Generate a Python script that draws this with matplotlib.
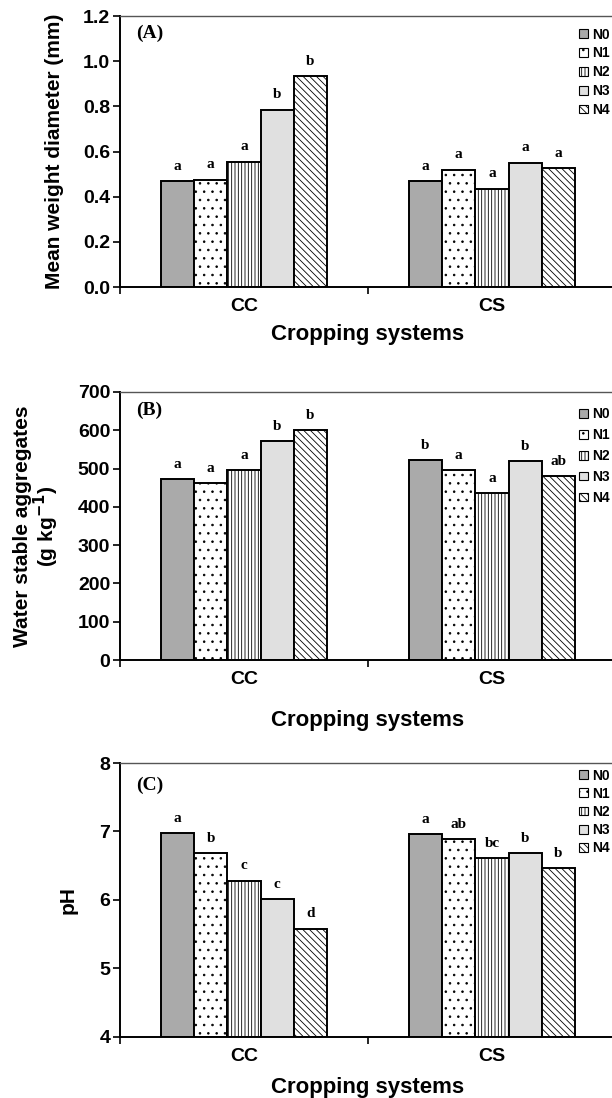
import matplotlib.pyplot as plt
from matplotlib.patches import Patch

plt.rcParams['font.family'] = ['Liberation Sans', 'DejaVu Sans']
plt.rcParams['hatch.linewidth'] = 0.6

systems = ['CC', 'CS']
treatments = ['N0', 'N1', 'N2', 'N3', 'N4']

mwd_cc = [0.47, 0.475, 0.555, 0.785, 0.935]
mwd_cs = [0.47, 0.52, 0.435, 0.55, 0.525]
mwd_let_cc = ['a', 'a', 'a', 'b', 'b']
mwd_let_cs = ['a', 'a', 'a', 'a', 'a']

wsa_cc = [472, 462, 496, 572, 600]
wsa_cs = [522, 496, 436, 520, 481]
wsa_let_cc = ['a', 'a', 'a', 'b', 'b']
wsa_let_cs = ['b', 'a', 'a', 'b', 'ab']

ph_cc = [6.98, 6.68, 6.28, 6.01, 5.58]
ph_cs = [6.96, 6.89, 6.61, 6.68, 6.46]
ph_let_cc = ['a', 'b', 'c', 'c', 'd']
ph_let_cs = ['a', 'ab', 'bc', 'b', 'b']

# fill colour and hatch for each treatment
faces = ['#aaaaaa', 'white', 'white', '#e0e0e0', 'white']
hatches = ['', '..', '|||||', '', '\\\\\\\\\\']

fig = plt.figure(figsize=(6.12, 10.98), dpi=100)

panels = [
    dict(vals=(mwd_cc, mwd_cs), lets=(mwd_let_cc, mwd_let_cs), ylim=(0, 1.2),
         yticks=[0.0, 0.2, 0.4, 0.6, 0.8, 1.0, 1.2], fmt='{:.1f}', tag='(A)',
         ylabel='Mean weight diameter (mm)', rect=[0.196, 0.7386, 0.8105, 0.2468],
         ylx=-0.131, xly=-0.177, tagy=0.935, legy=0.973, legsp=0.35),
    dict(vals=(wsa_cc, wsa_cs), lets=(wsa_let_cc, wsa_let_cs), ylim=(0, 700),
         yticks=list(range(0, 701, 100)), fmt='{:d}', tag='(B)',
         ylabel='Water stable aggregates\n(g kg$^{\\mathbf{-1}}$)', rect=[0.196, 0.3989, 0.8105, 0.2441],
         ylx=-0.167, xly=-0.224, tagy=0.93, legy=0.959, legsp=0.5),
    dict(vals=(ph_cc, ph_cs), lets=(ph_let_cc, ph_let_cs), ylim=(4, 8),
         yticks=[4, 5, 6, 7, 8], fmt='{:d}', tag='(C)',
         ylabel='pH', rect=[0.196, 0.0556, 0.8105, 0.2495],
         ylx=-0.105, xly=-0.183, tagy=0.92, legy=0.995, legsp=0.3),
]

bw = 0.134
for p in panels:
    ax = fig.add_axes(p['rect'])
    for g, (vals, lets) in enumerate(zip(p['vals'], p['lets'])):
        center = g + 0.5
        for i, (v, l) in enumerate(zip(vals, lets)):
            x = center + (i - 2) * bw
            ax.bar(x, v - p['ylim'][0], bottom=p['ylim'][0], width=bw,
                   color=faces[i], hatch=hatches[i], edgecolor='black', linewidth=1.4)
            ax.annotate(l, (x, v), xytext=(0, 6), textcoords='offset points',
                        ha='center', va='bottom', fontsize=11, fontweight='bold',
                        family='Liberation Serif')
    ax.set_xlim(0, 2)
    ax.set_ylim(*p['ylim'])
    ax.set_yticks(p['yticks'])
    ax.set_yticklabels([p['fmt'].format(t) for t in p['yticks']], fontsize=14, fontweight='bold')
    ax.set_xticks([0, 1, 2])
    ax.set_xticklabels([])
    ax.set_xticks([0.5, 1.5], minor=True)
    ax.set_xticklabels(systems, minor=True, fontsize=14, fontweight='bold')
    ax.tick_params(axis='x', which='minor', length=0, pad=8)
    ax.tick_params(axis='x', which='major', length=5, width=1.2, direction='out')
    ax.tick_params(axis='y', length=5, width=1.2, direction='out', pad=2)
    ax.spines['left'].set_linewidth(1.4)
    ax.spines['bottom'].set_linewidth(1.4)
    ax.spines['top'].set_linewidth(1.0)
    ax.spines['top'].set_color('#555555')
    ax.set_xlabel('Cropping systems', fontsize=16, fontweight='bold')
    ax.xaxis.set_label_coords(0.5, p['xly'])
    ax.xaxis.label.set_va('center')
    ax.set_ylabel(p['ylabel'], fontsize=15, fontweight='bold', linespacing=1.0)
    ax.yaxis.set_label_coords(p['ylx'], 0.5)
    ax.yaxis.label.set_va('center')
    ax.text(0.032, p['tagy'], p['tag'], transform=ax.transAxes, fontsize=14,
            fontweight='bold', family='Liberation Serif', va='center')

    handles = [Patch(facecolor=faces[i], hatch=hatches[i], edgecolor='black',
                     linewidth=0.8, label=treatments[i]) for i in range(5)]
    ax.legend(handles=handles, loc='upper left', bbox_to_anchor=(0.918, p['legy']),
              frameon=False, handlelength=0.6, handleheight=0.6, handletextpad=0.3,
              labelspacing=p['legsp'], borderaxespad=0, borderpad=0.3,
              prop={'size': 10, 'weight': 'bold'})

plt.savefig('out.png', dpi=100)
